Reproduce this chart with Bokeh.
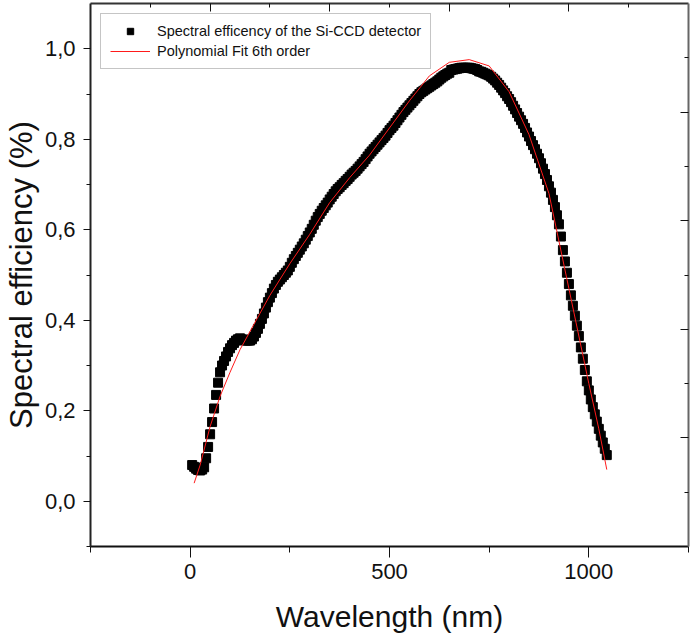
from bokeh.plotting import figure
from bokeh.models import (Range1d, LinearAxis, FixedTicker, CustomJSTickFormatter,
                          Legend, LegendItem)
from bokeh.embed import file_html
from bokeh.resources import INLINE

# ---- data ----
wavelength = [5, 10, 15, 20, 25, 30, 35, 40, 45, 50,
              55, 60, 65, 70, 75, 80, 85, 90, 95, 100,
              105, 110, 115, 120, 125, 130, 135, 140, 145, 150,
              155, 160, 165, 170, 175, 180, 185, 190, 195, 200,
              205, 210, 215, 220, 225, 230, 235, 240, 245, 250,
              255, 260, 265, 270, 275, 280, 285, 290, 295, 300,
              305, 310, 315, 320, 325, 330, 335, 340, 345, 350,
              355, 360, 365, 370, 375, 380, 385, 390, 395, 400,
              405, 410, 415, 420, 425, 430, 435, 440, 445, 450,
              455, 460, 465, 470, 475, 480, 485, 490, 495, 500,
              505, 510, 515, 520, 525, 530, 535, 540, 545, 550,
              555, 560, 565, 570, 575, 580, 585, 590, 595, 600,
              605, 610, 615, 620, 625, 630, 635, 640, 645, 650,
              655, 660, 665, 670, 675, 680, 685, 690, 695, 700,
              705, 710, 715, 720, 725, 730, 735, 740, 745, 750,
              755, 760, 765, 770, 775, 780, 785, 790, 795, 800,
              805, 810, 815, 820, 825, 830, 835, 840, 845, 850,
              855, 860, 865, 870, 875, 880, 885, 890, 895, 900,
              905, 910, 915, 920, 925, 930, 935, 940, 945, 950,
              955, 960, 965, 970, 975, 980, 985, 990, 995, 1000,
              1005, 1010, 1015, 1020, 1025, 1030, 1035, 1040, 1045]
efficiency = [0.080, 0.076, 0.072, 0.069, 0.068, 0.070, 0.075, 0.095, 0.120, 0.148,
              0.175, 0.205, 0.235, 0.262, 0.285, 0.300, 0.310, 0.320, 0.330, 0.338,
              0.345, 0.350, 0.355, 0.358, 0.360, 0.358, 0.356, 0.355, 0.355, 0.355,
              0.358, 0.364, 0.372, 0.381, 0.392, 0.403, 0.415, 0.428, 0.440, 0.450,
              0.460, 0.470, 0.478, 0.485, 0.490, 0.495, 0.500, 0.505, 0.510, 0.518,
              0.527, 0.535, 0.542, 0.549, 0.556, 0.563, 0.570, 0.578, 0.586, 0.594,
              0.602, 0.611, 0.620, 0.628, 0.635, 0.642, 0.648, 0.654, 0.660, 0.667,
              0.673, 0.679, 0.685, 0.690, 0.694, 0.699, 0.703, 0.708, 0.712, 0.717,
              0.722, 0.726, 0.730, 0.735, 0.740, 0.745, 0.750, 0.756, 0.762, 0.768,
              0.773, 0.778, 0.783, 0.788, 0.793, 0.798, 0.803, 0.808, 0.814, 0.820,
              0.825, 0.830, 0.836, 0.842, 0.848, 0.854, 0.860, 0.865, 0.870, 0.875,
              0.880, 0.885, 0.890, 0.895, 0.900, 0.904, 0.907, 0.910, 0.913, 0.916,
              0.919, 0.922, 0.925, 0.928, 0.932, 0.936, 0.939, 0.942, 0.945, 0.947,
              0.953, 0.954, 0.955, 0.956, 0.957, 0.958, 0.958, 0.958, 0.958, 0.958,
              0.957, 0.956, 0.955, 0.953, 0.950, 0.949, 0.947, 0.945, 0.943, 0.941,
              0.938, 0.934, 0.930, 0.925, 0.920, 0.914, 0.908, 0.902, 0.895, 0.889,
              0.882, 0.874, 0.866, 0.858, 0.850, 0.842, 0.834, 0.825, 0.815, 0.806,
              0.796, 0.787, 0.778, 0.768, 0.758, 0.747, 0.735, 0.723, 0.710, 0.696,
              0.682, 0.666, 0.650, 0.632, 0.612, 0.585, 0.555, 0.530, 0.505, 0.480,
              0.455, 0.432, 0.410, 0.388, 0.365, 0.340, 0.315, 0.290, 0.265, 0.245,
              0.225, 0.208, 0.192, 0.176, 0.160, 0.145, 0.130, 0.116, 0.102]

fit_wavelength = [10, 25, 50, 75, 100, 125, 150, 175, 200, 250,
                  300, 350, 400, 450, 500, 550, 600, 650, 700, 750,
                  800, 850, 900, 950, 1000, 1025, 1045]
fit_efficiency = [0.040, 0.080, 0.165, 0.232, 0.285, 0.335, 0.375, 0.415, 0.455, 0.525,
                  0.590, 0.660, 0.715, 0.765, 0.825, 0.885, 0.940, 0.970, 0.976, 0.962,
                  0.905, 0.810, 0.680, 0.470, 0.260, 0.160, 0.070]

x_major_ticks = [0, 500, 1000]
x_minor_ticks = [-250, 250, 750, 1250]
y_major_ticks = [0.0, 0.2, 0.4, 0.6, 0.8, 1.0]
y_minor_ticks = [-0.1, 0.1, 0.3, 0.5, 0.7, 0.9]
mirror_major_ticks = [2, 4, 6, 8]
mirror_minor_ticks = [1, 3, 5, 7, 9]

series_label = "Spectral efficency of the Si-CCD detector"
fit_label = "Polynomial Fit 6th order"
x_title = "Wavelength (nm)"
y_title = "Spectral efficiency (%)"

FONT = "Liberation Sans"

p = figure(width=693, height=637,
           x_range=Range1d(-250, 1250), y_range=Range1d(-0.1, 1.1),
           output_backend="svg", toolbar_location=None,
           x_axis_location=None, y_axis_location=None,
           min_border_left=86, min_border_right=5,
           min_border_top=3, min_border_bottom=91)
p.xgrid.grid_line_color = None
p.ygrid.grid_line_color = None
p.outline_line_color = None
p.background_fill_color = "white"
p.border_fill_color = "white"

# bottom axis
xaxis = LinearAxis(ticker=FixedTicker(ticks=x_major_ticks, minor_ticks=x_minor_ticks),
                   axis_label=x_title)
xaxis.axis_line_color = "#111111"
xaxis.axis_line_width = 2
xaxis.major_tick_out = 11
xaxis.major_tick_in = 0
xaxis.minor_tick_out = 6
xaxis.minor_tick_in = 0
xaxis.major_tick_line_color = "#111111"
xaxis.minor_tick_line_color = "#111111"
xaxis.major_label_standoff = 6
xaxis.major_label_text_font = FONT
xaxis.major_label_text_font_size = "22px"
xaxis.major_label_text_color = "#111111"
xaxis.axis_label_text_font = FONT
xaxis.axis_label_text_font_size = "30px"
xaxis.axis_label_text_font_style = "normal"
xaxis.axis_label_text_color = "#111111"
xaxis.axis_label_standoff = 18
p.add_layout(xaxis, "below")

# left axis
yaxis = LinearAxis(ticker=FixedTicker(ticks=y_major_ticks, minor_ticks=y_minor_ticks),
                   axis_label=y_title,
                   formatter=CustomJSTickFormatter(code="return tick.toFixed(1).replace('.', ',');"))
yaxis.axis_line_color = "#222222"
yaxis.axis_line_width = 2
yaxis.major_tick_out = 7
yaxis.major_tick_in = 0
yaxis.minor_tick_out = 4
yaxis.minor_tick_in = 0
yaxis.major_tick_line_color = "#111111"
yaxis.minor_tick_line_color = "#111111"
yaxis.major_label_standoff = 8
yaxis.major_label_text_font = FONT
yaxis.major_label_text_font_size = "22px"
yaxis.major_label_text_color = "#111111"
yaxis.axis_label_text_font = FONT
yaxis.axis_label_text_font_size = "31px"
yaxis.axis_label_text_font_style = "normal"
yaxis.axis_label_text_color = "#111111"
yaxis.axis_label_standoff = 3
p.add_layout(yaxis, "left")

# mirrored top / right axes: tick marks only (drawn as unlabeled minor ticks)
p.extra_x_ranges = {"mirror_x": Range1d(0, 10)}
p.extra_y_ranges = {"mirror_y": Range1d(0, 10)}


def mirror_axis(kind, range_name, ticks, length, line_col):
    kw = {"x_range_name": range_name} if kind == "x" else {"y_range_name": range_name}
    ax = LinearAxis(ticker=FixedTicker(ticks=[], minor_ticks=ticks), **kw)
    ax.axis_line_color = line_col
    ax.axis_line_width = 2
    ax.major_tick_in = 0
    ax.major_tick_out = 0
    ax.minor_tick_in = length
    ax.minor_tick_out = 0
    ax.minor_tick_line_color = "#111111"
    ax.major_label_standoff = 0
    return ax


p.add_layout(mirror_axis("x", "mirror_x", mirror_major_ticks, 8, "#333333"), "above")
p.add_layout(mirror_axis("x", "mirror_x", mirror_minor_ticks, 4, None), "above")
p.add_layout(mirror_axis("y", "mirror_y", mirror_major_ticks, 8, "#666666"), "right")
p.add_layout(mirror_axis("y", "mirror_y", mirror_minor_ticks, 4, None), "right")

# data
sq = p.scatter(wavelength, efficiency, marker="square", size=9,
               fill_color="black", line_color="black")
ln = p.line(fit_wavelength, fit_efficiency, line_color="#ff1a1a", line_width=1)

legend = Legend(items=[LegendItem(label=series_label, renderers=[sq]),
                       LegendItem(label=fit_label, renderers=[ln])],
                location="top_left")
legend.margin = 10
legend.padding = 9
legend.spacing = 4
legend.glyph_width = 40
legend.glyph_height = 16
legend.label_height = 16
legend.label_standoff = 7
legend.label_text_font = FONT
legend.label_text_font_size = "14.5px"
legend.label_text_color = "#111111"
legend.border_line_color = "#8c8c8c"
legend.border_line_width = 1
legend.background_fill_color = "white"
legend.background_fill_alpha = 1
p.add_layout(legend)

open("out.html", "w").write(file_html(p, INLINE))
